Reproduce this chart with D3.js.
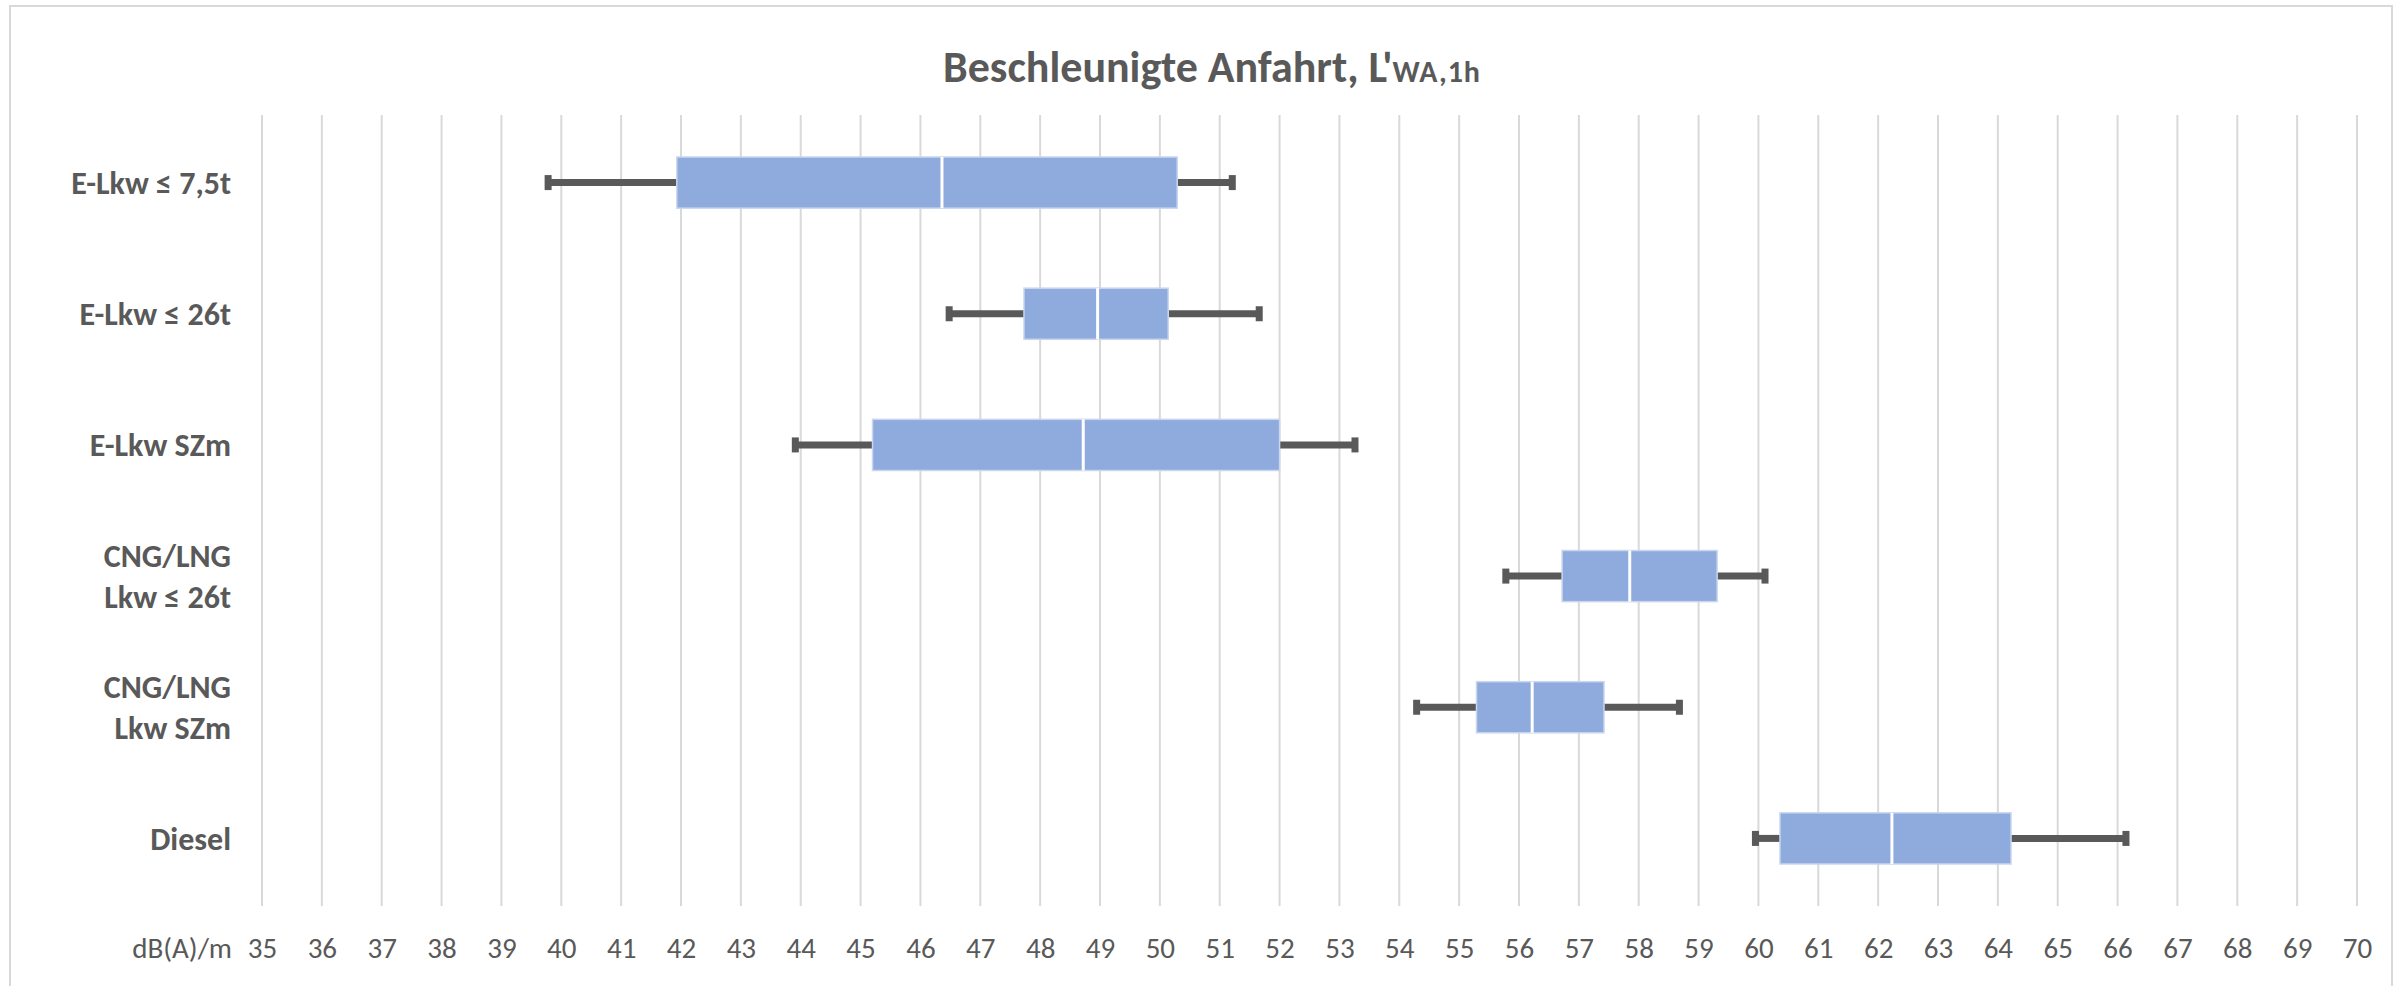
<!DOCTYPE html>
<html>
<head>
<meta charset="utf-8">
<script src="https://cdn.jsdelivr.net/npm/d3@7"></script>
<style>
  body { margin: 0; background: #fff; }
  #chart { width: 2396px; height: 986px; }
  text { font-family: Carlito, Calibri, Lato, "Open Sans", sans-serif; fill: #595959; }
</style>
</head>
<body>
<div id="chart"></div>
<script>
// box plot values
let categories = ["E-Lkw ≤ 7,5t", "E-Lkw ≤ 26t", "E-Lkw SZm", "CNG/LNG|Lkw ≤ 26t", "CNG/LNG|Lkw SZm", "Diesel"]
let mins    = [39.78, 46.48, 43.91, 55.78, 54.29, 59.95]
let q1s     = [41.93, 47.73, 45.20, 56.72, 55.29, 60.36]
let medians = [46.36, 48.96, 48.72, 57.85, 56.22, 62.23]
let q3s     = [50.29, 50.14, 52.00, 59.31, 57.42, 64.22]
let maxs    = [51.21, 51.66, 53.26, 60.11, 58.68, 66.14]
let ticks   = d3.range(35, 71)

let width = 2396,
    height = 986

let svg = d3.select("#chart").append("svg")
    .attr("width", width)
    .attr("height", height)

// chart frame
svg.append("rect")
    .attr("x", 10)
    .attr("y", 6)
    .attr("width", 2382)
    .attr("height", 1000)
    .attr("fill", "none")
    .attr("stroke", "#d9d9d9")
    .attr("stroke-width", 2)

let x = d3.scaleLinear().domain([35, 70]).range([262, 2357])

let y = d3.scaleBand().domain(categories).range([117, 904]).padding(0)

let boxH = y.bandwidth() * 0.39

let data = categories.map(function(c, i){
    return {name: c, min: mins[i], q1: q1s[i], med: medians[i], q3: q3s[i], max: maxs[i]}
})

// vertical gridlines
svg.selectAll(".grid")
    .data(ticks)
    .enter()
    .append("line")
    .attr("x1", d => x(d))
    .attr("x2", d => x(d))
    .attr("y1", 115)
    .attr("y2", 906)
    .attr("stroke", "#d9d9d9")
    .attr("stroke-width", 2)

// x axis labels
let xAxis = d3.axisBottom(x).tickValues(ticks).tickSize(0).tickPadding(0).tickFormat(d3.format("d"))

let gx = svg.append("g")
    .attr("transform", "translate(0,948)")
    .call(xAxis)

gx.select(".domain").remove()
gx.attr("font-family", null).attr("font-size", null)
gx.selectAll("text")
    .attr("dy", "0.35em")
    .attr("font-size", 29)

svg.append("text")
    .attr("x", 232)
    .attr("y", 948)
    .attr("dy", "0.35em")
    .attr("text-anchor", "end")
    .attr("font-size", 29)
    .text("dB(A)/m")

// category labels
let labels = svg.selectAll(".cat")
    .data(data)
    .enter()
    .append("text")
    .attr("text-anchor", "end")
    .attr("font-size", 32)
    .attr("font-weight", "bold")
    .attr("transform", d => "translate(231," + (y(d.name) + y.bandwidth() / 2) + ")")

labels.each(function(d){
    let lines = d.name.split("|")
    let t = d3.select(this)
    lines.forEach(function(l, i){
        t.append("tspan")
            .attr("x", 0)
            .attr("y", (i - (lines.length - 1) / 2) * 41)
            .attr("dy", "0.35em")
            .text(l)
    })
})

let rows = svg.selectAll(".row")
    .data(data)
    .enter()
    .append("g")
    .attr("transform", d => "translate(0," + (y(d.name) + y.bandwidth() / 2) + ")")

// whiskers
rows.append("line")
    .attr("x1", d => x(d.min))
    .attr("x2", d => x(d.q1))
    .attr("stroke", "#595959")
    .attr("stroke-width", 7)

rows.append("line")
    .attr("x1", d => x(d.q3))
    .attr("x2", d => x(d.max))
    .attr("stroke", "#595959")
    .attr("stroke-width", 7)

rows.append("rect")
    .attr("x", d => x(d.min) - 3.5)
    .attr("y", -7.5)
    .attr("width", 7)
    .attr("height", 15)
    .attr("fill", "#595959")

rows.append("rect")
    .attr("x", d => x(d.max) - 3.5)
    .attr("y", -7.5)
    .attr("width", 7)
    .attr("height", 15)
    .attr("fill", "#595959")

// boxes
rows.append("rect")
    .attr("x", d => x(d.q1))
    .attr("y", -boxH / 2)
    .attr("width", d => x(d.q3) - x(d.q1))
    .attr("height", boxH)
    .attr("fill", "#8faadc")
    .attr("stroke", "#c9d6ee")
    .attr("stroke-width", 1.5)

rows.append("line")
    .attr("x1", d => x(d.med))
    .attr("x2", d => x(d.med))
    .attr("y1", -boxH / 2)
    .attr("y2", boxH / 2)
    .attr("stroke", "#ffffff")
    .attr("stroke-width", 3)

// title
let title = svg.append("text")
    .attr("x", 1212)
    .attr("y", 82)
    .attr("text-anchor", "middle")
    .attr("font-weight", "bold")

title.append("tspan")
    .attr("font-size", 44)
    .text("Beschleunigte Anfahrt, L'")

title.append("tspan")
    .attr("font-size", 30)
    .attr("letter-spacing", 1)
    .text("WA,1h")
</script>
</body>
</html>
